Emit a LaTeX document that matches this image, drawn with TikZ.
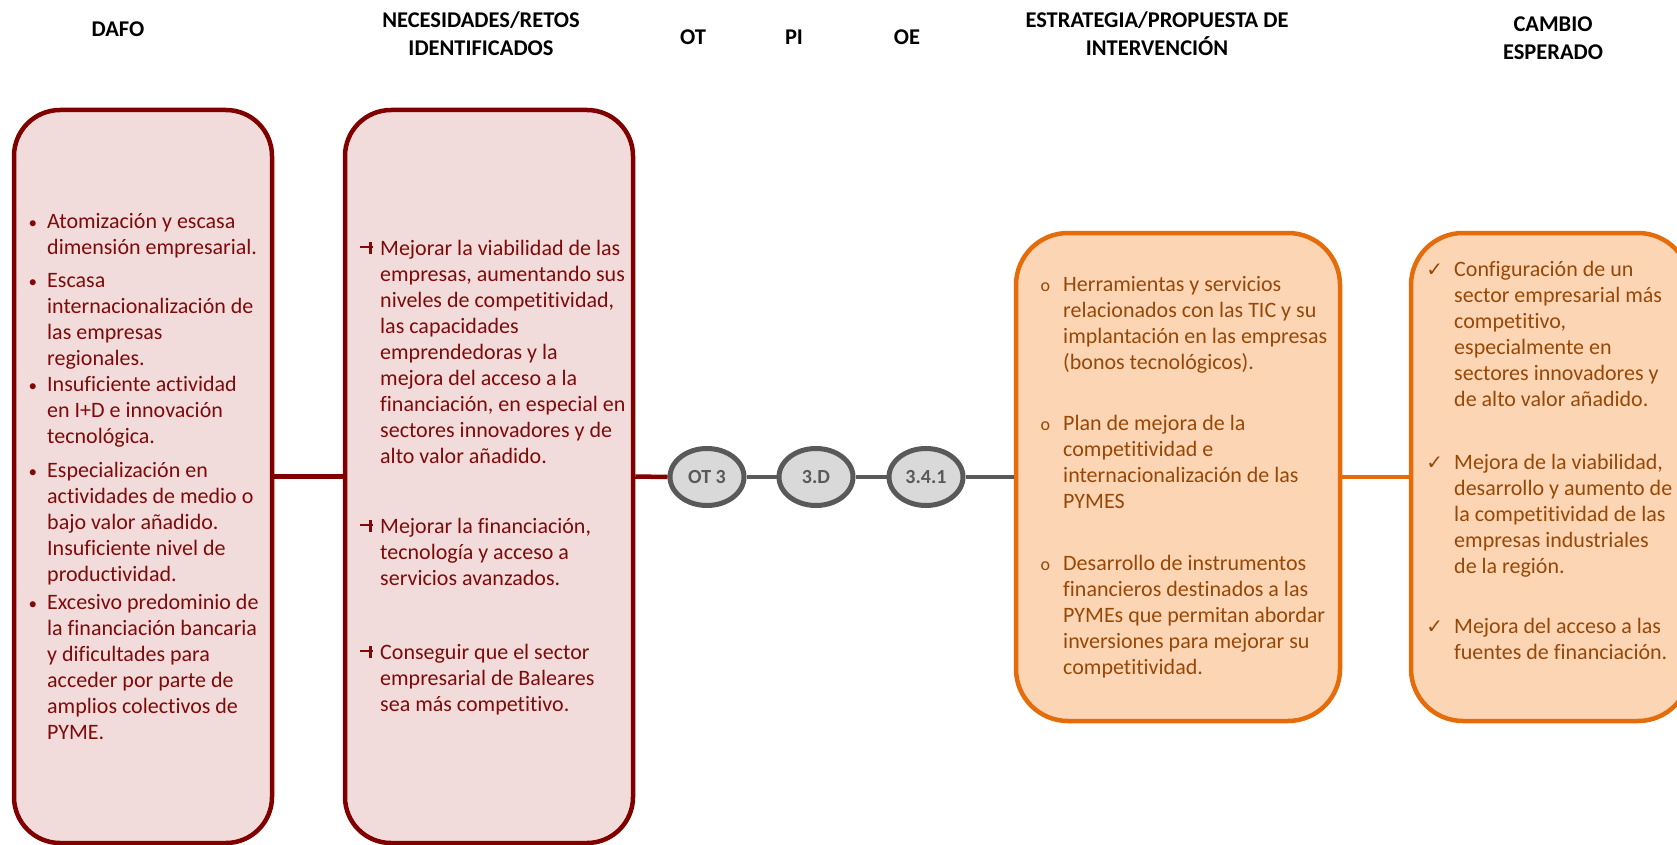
\documentclass[tikz,border=0pt]{standalone}
\usepackage{fontspec}
\setmainfont{Carlito}[Ligatures=NoCommon]
\newfontfamily\djv{DejaVu Sans}
\usetikzlibrary{shapes.geometric}
\definecolor{redline}{HTML}{800000}
\definecolor{redfill}{HTML}{F2DCDB}
\definecolor{redtext}{HTML}{7F0A0A}
\definecolor{orline}{HTML}{E46C0A}
\definecolor{orfill}{HTML}{FCD5B4}
\definecolor{ortext}{HTML}{984806}
\definecolor{grline}{HTML}{595959}
\definecolor{grfill}{HTML}{D9D9D9}
\newcommand\pinmark{\makebox[15pt][l]{\rule[7pt]{13pt}{2.8pt}\kern-4pt\rule[1pt]{2.8pt}{12pt}}}
\newcommand\dbul{\llap{{\fontsize{17}{17}\selectfont •}\hspace{10pt}}}
\newcommand\nbul{\llap{\pinmark\hspace{5pt}}}
\newcommand\sbul{\llap{{\fontsize{18}{18}\selectfont o}\hspace{13pt}}}
\newcommand\cbul{\llap{{\djv\fontsize{20}{20}\selectfont ✓}\hspace{11pt}}}
\begin{document}
\begin{tikzpicture}[x=1pt,y=-1pt,
  header/.style={font=\fontsize{22.5}{28}\selectfont\bfseries, align=center, inner sep=0pt, text=black},
  redbox/.style={draw=redline, fill=redfill, line width=4.5pt, rounded corners=46pt, rectangle, inner sep=0pt},
  orbox/.style={draw=orline, fill=orfill, line width=4.5pt, rounded corners=52pt, rectangle, inner sep=0pt},
  oval/.style={ellipse, draw=grline, fill=grfill, line width=5pt, inner sep=0pt, minimum width=74pt, minimum height=57pt, text=grline, font=\fontsize{20}{24}\selectfont\bfseries},
  redtxt/.style={anchor=north west, align=left, inner sep=0pt, text=redtext, font=\fontsize{22}{26}\selectfont},
  ortxt/.style={anchor=north west, align=left, inner sep=0pt, text=ortext, font=\fontsize{22}{26}\selectfont},
  redconn/.style={draw=redline, line width=4.5pt},
  grconn/.style={draw=grline, line width=4.5pt},
  orconn/.style={draw=orline, line width=4.5pt}
]
\useasboundingbox (0,0) rectangle (1677,845);

% headers
\node[header] (hdafo) at (118,29) {DAFO};
\node[header] (hnec) at (481,34) {NECESIDADES/RETOS\\IDENTIFICADOS};
\node[header] (hot) at (693,37) {OT};
\node[header] (hpi) at (794,37) {PI};
\node[header] (hoe) at (907,37) {OE};
\node[header] (hest) at (1157,34) {ESTRATEGIA/PROPUESTA DE\\INTERVENCIÓN};
\node[header] (hcam) at (1553,38) {CAMBIO\\ESPERADO};

% boxes
\node[redbox, minimum width=258pt, minimum height=733pt] (dafo) at (143,476.5) {};
\node[redbox, minimum width=288pt, minimum height=733pt] (nec) at (489,476.5) {};
\node[orbox, minimum width=324pt, minimum height=488pt] (est) at (1178,477) {};
\node[orbox, minimum width=279pt, minimum height=488pt] (cam) at (1550.5,477) {};

% ovals
\node[oval] (ot) at (707,477) {OT 3};
\node[oval] (pi) at (816,477) {3.D};
\node[oval] (oe) at (926,477) {3.4.1};

% connectors
\draw[redconn] (dafo.east) -- (nec.west);
\draw[redconn] (nec.east) -- (ot.west);
\draw[grconn] (ot.east) -- (pi.west);
\draw[grconn] (pi.east) -- (oe.west);
\draw[grconn] (oe.east) -- (est.west);
\draw[orconn] (est.east) -- (cam.west);

% DAFO text
\node[redtxt] (d1) at (47,210) {\dbul\strut Atomización y escasa\\dimensión empresarial.};
\node[redtxt] (d2) at (47,269) {\dbul\strut Escasa\\internacionalización de\\las empresas\\regionales.};
\node[redtxt] (d3) at (47,373) {\dbul\strut Insuficiente actividad\\en I+D e innovación\\tecnológica.};
\node[redtxt] (d4) at (47,459) {\dbul\strut Especialización en\\actividades de medio o\\bajo valor añadido.\\Insuficiente nivel de\\productividad.};
\node[redtxt] (d5) at (47,591) {\dbul\strut Excesivo predominio de\\la financiación bancaria\\y dificultades para\\acceder por parte de\\amplios colectivos de\\PYME.};

% needs text
\node[redtxt] (n1) at (380,237) {\nbul\strut Mejorar la viabilidad de las\\empresas, aumentando sus\\niveles de competitividad,\\las capacidades\\emprendedoras y la\\mejora del acceso a la\\financiación, en especial en\\sectores innovadores y de\\alto valor añadido.};
\node[redtxt] (n2) at (380,515) {\nbul\strut Mejorar la financiación,\\tecnología y acceso a\\servicios avanzados.};
\node[redtxt] (n3) at (380,641) {\nbul\strut Conseguir que el sector\\empresarial de Baleares\\sea más competitivo.};

% strategy text
\node[ortxt] (s1) at (1063,273) {\sbul\strut Herramientas y servicios\\relacionados con las TIC y su\\implantación en las empresas\\(bonos tecnológicos).};
\node[ortxt] (s2) at (1063,412) {\sbul\strut Plan de mejora de la\\competitividad e\\internacionalización de las\\PYMES};
\node[ortxt] (s3) at (1063,552) {\sbul\strut Desarrollo de instrumentos\\financieros destinados a las\\PYMEs que permitan abordar\\inversiones para mejorar su\\competitividad.};

% cambio text
\node[ortxt] (c1) at (1454,258) {\cbul\strut Configuración de un\\sector empresarial más\\competitivo,\\especialmente en\\sectores innovadores y\\de alto valor añadido.};
\node[ortxt] (c2) at (1454,451) {\cbul\strut Mejora de la viabilidad,\\desarrollo y aumento de\\la competitividad de las\\empresas industriales\\de la región.};
\node[ortxt] (c3) at (1454,615) {\cbul\strut Mejora del acceso a las\\fuentes de financiación.};
\end{tikzpicture}
\end{document}
